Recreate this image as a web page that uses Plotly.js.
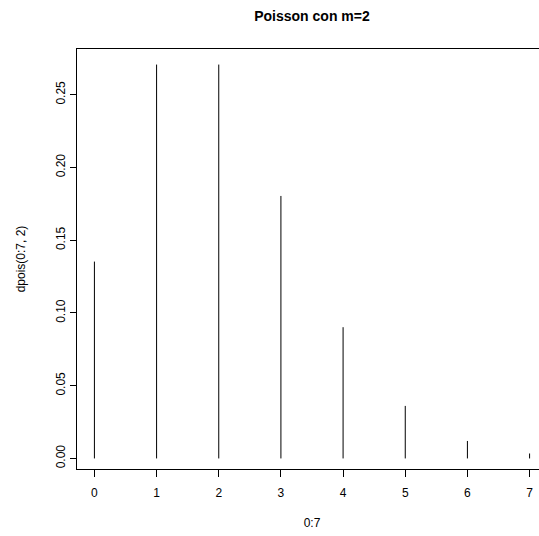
<!DOCTYPE html>
<html>
<head>
<meta charset="utf-8">
<script src="https://cdn.plot.ly/plotly-3.0.1.min.js"></script>
<style>
html, body { margin: 0; padding: 0; overflow: hidden; background: #fff; }
#chart { width: 560px; height: 536px; }
</style>
</head>
<body>
<div id="chart"></div>
<script>
// Data: dpois(0:7, 2)
const xValues = [0, 1, 2, 3, 4, 5, 6, 7];
const yValues = [0.1353, 0.2707, 0.2707, 0.1804, 0.0902, 0.0361, 0.0120, 0.0034];
const xTickVals = [0, 1, 2, 3, 4, 5, 6, 7];
const yTickVals = [0, 0.05, 0.10, 0.15, 0.20, 0.25];
const yTickText = ["0.00", "0.05", "0.10", "0.15", "0.20", "0.25"];

// build type="h" vertical segments
const segX = [], segY = [];
xValues.forEach((x, i) => {
  segX.push(x, x, null);
  segY.push(0, yValues[i], null);
});

const font = { family: "Liberation Sans, Arial, Helvetica, sans-serif", size: 12, color: "#000" };

const trace = {
  type: "scatter",
  mode: "lines",
  x: segX,
  y: segY,
  line: { color: "#000", width: 1 },
  hoverinfo: "skip",
  showlegend: false
};

const layout = {
  width: 560,
  height: 536,
  paper_bgcolor: "#fff",
  plot_bgcolor: "#fff",
  font: font,
  margin: { l: 77, r: 13, t: 49, b: 67, pad: 0 },
  title: {
    text: "<b>Poisson con m=2</b>",
    font: { family: font.family, size: 14, color: "#000" },
    xref: "paper", x: 0.5, xanchor: "center",
    yref: "container", y: 1 - 16 / 536, yanchor: "middle"
  },
  xaxis: {
    range: [-0.28, 7.28],
    tickmode: "array",
    tickvals: xTickVals,
    ticktext: xTickVals.map(String),
    ticks: "outside", ticklen: 7, tickwidth: 1, tickcolor: "#000",
    ticklabelstandoff: 6,
    showline: true, linecolor: "#000", linewidth: 1, mirror: true,
    showgrid: false, zeroline: false,
    automargin: false,
    tickfont: font,
    title: { text: "0:7", font: font, standoff: 19 }
  },
  yaxis: {
    range: [-0.00726, 0.2814],
    tickmode: "array",
    tickvals: yTickVals,
    ticktext: yTickText,
    tickangle: -90,
    ticks: "outside", ticklen: 6, tickwidth: 1, tickcolor: "#000",
    ticklabelstandoff: 0,
    showline: true, linecolor: "#000", linewidth: 1, mirror: true,
    showgrid: false, zeroline: false,
    automargin: false,
    tickfont: font,
    title: { text: "dpois(0:7, 2)", font: font, standoff: 26 }
  }
};

Plotly.newPlot("chart", [trace], layout, { staticPlot: true, displayModeBar: false });
</script>
</body>
</html>
